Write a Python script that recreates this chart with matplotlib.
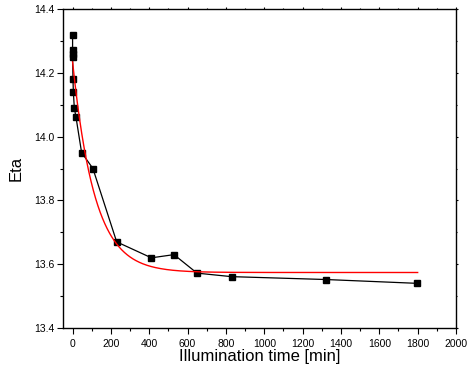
import numpy as np
import matplotlib
matplotlib.use("Agg")
import matplotlib.pyplot as plt
from matplotlib.ticker import MultipleLocator

# Measured data (illumination time in min, Eta)
time_min = [0, 0, 0, 0, 2, 4, 9, 18, 47, 106, 230, 411, 529, 649, 829, 1320, 1797]
eta = [14.32, 14.27, 14.26, 14.25, 14.18, 14.14, 14.09, 14.06, 13.95, 13.90,
       13.67, 13.62, 13.63, 13.572, 13.561, 13.552, 13.54]

# Exponential decay fit parameters (red curve): y = y0 + A*exp(-t/tau)
fit_y0 = 13.574
fit_A = 0.66
fit_tau = 115.0
fit_t_start = 0
fit_t_end = 1800

x_ticks = [0, 200, 400, 600, 800, 1000, 1200, 1400, 1600, 1800, 2000]
y_ticks = [13.4, 13.6, 13.8, 14.0, 14.2, 14.4]

plt.rcParams['font.family'] = ['Liberation Sans', 'DejaVu Sans']

fig = plt.figure(figsize=(4.67, 3.76), dpi=100)
ax = fig.add_axes([63/467, 1-328/376, (456-63)/467, (328-9)/376])

t_fit = np.linspace(fit_t_start, fit_t_end, 600)
y_fit = fit_y0 + fit_A * np.exp(-t_fit / fit_tau)

ax.plot(time_min, eta, color='black', lw=0.9, marker='s', ms=5.0,
        markerfacecolor='black', markeredgecolor='black', zorder=2)
ax.plot(t_fit, y_fit, color='#ff0000', lw=1.0, zorder=3)

ax.set_xlim(-50, 2000)
ax.set_ylim(13.4, 14.4)
ax.set_xticks(x_ticks)
ax.set_yticks(y_ticks)
ax.set_xticklabels([str(v) for v in x_ticks])
ax.set_yticklabels([f"{v:.1f}" for v in y_ticks])
ax.xaxis.set_minor_locator(MultipleLocator(100))
ax.yaxis.set_minor_locator(MultipleLocator(0.1))

ax.tick_params(which='major', direction='out', length=4, width=0.8,
               labelsize=7.5, pad=2, top=True, right=True)
ax.tick_params(which='minor', direction='out', length=2.5, width=0.8,
               top=True, right=True)
ax.tick_params(axis='x', which='major', pad=4)
for t in ax.xaxis.get_major_ticks() + ax.yaxis.get_major_ticks():
    t.tick2line.set_markersize(1.5)
for t in ax.xaxis.get_minor_ticks() + ax.yaxis.get_minor_ticks():
    t.tick2line.set_markersize(1.0)

for s in ax.spines.values():
    s.set_linewidth(1.0)

ax.set_xlabel('Illumination time [min]', fontsize=12, labelpad=0)
ax.set_ylabel('Eta', fontsize=12, labelpad=8)

fig.savefig('out.png', dpi=100)
